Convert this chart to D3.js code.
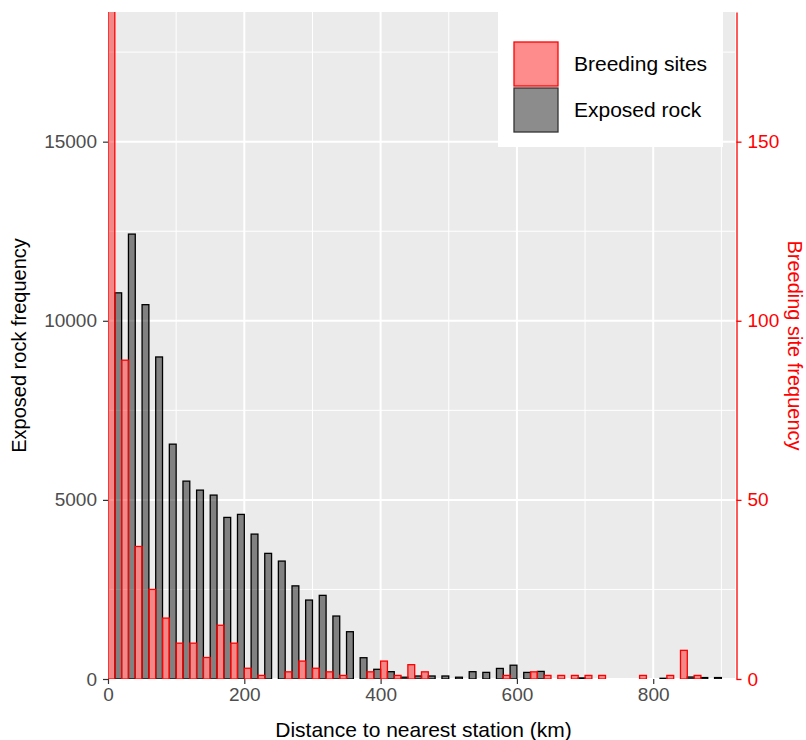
<!DOCTYPE html>
<html><head><meta charset="utf-8">
<script src="https://cdn.jsdelivr.net/npm/d3@7"></script>
<style>
body{margin:0;background:#fff;}
text{font-family:"Liberation Sans",Arial,sans-serif;}
</style></head>
<body><svg id="c" width="806" height="740"></svg>
<script>
// bin starts (km), bin width 20
const binStarts = d3.range(0, 920, 20);
const rockCounts = [10780,12420,10450,8990,6556,5524,5273,5134,4511,4595,
  4045,3507,3292,2600,2204,2335,1758,1320,594,271,
  204,50,84,84,84,50,204,185,295,385,
  184,212,0,0,30,0,0,0,0,0,
  20,0,55,40,40,0];
const breedCounts = [190,89,37,25,17,10,10,6,15,10,
  3,1,0,2,5,3,2,1,0,2,
  5,1,4,2,0,0,0,0,0,1,
  0,2,1,1,1,1,1,0,0,1,
  0,1,8,1,0,0];
const xTicks = [0,200,400,600,800];
const xMinor = [100,300,500,700,900];
const yLeftTicks = [0,5000,10000,15000];
const yLeftMinor = [2500,7500,12500,17500];
const yRightTicks = [0,50,100,150];
const seriesNames = ["Breeding sites","Exposed rock"];

const binWidth = 20;
const L=108, R=735, T=12, B=679;
const svg = d3.select("#c");
const x = d3.scaleLinear().domain([0,920]).range([L,R]);
const yL = d3.scaleLinear().domain([0,18620]).range([B,T]);
const yR = d3.scaleLinear().domain([0,186.2]).range([B,T]);

svg.append("defs").append("clipPath").attr("id","pc")
  .append("rect").attr("x",L).attr("y",T).attr("width",R-L).attr("height",B-T);

svg.append("rect").attr("x",L).attr("y",T).attr("width",R-L).attr("height",B-T).attr("fill","#EBEBEB");
const g = svg.append("g").attr("clip-path","url(#pc)");
// minor grid
g.selectAll(".vmin").data(xMinor).join("line")
  .attr("x1",d=>x(d)).attr("x2",d=>x(d)).attr("y1",T).attr("y2",B)
  .attr("stroke","#fff").attr("stroke-width",1);
g.selectAll(".hmin").data(yLeftMinor).join("line")
  .attr("x1",L).attr("x2",R).attr("y1",d=>yL(d)).attr("y2",d=>yL(d))
  .attr("stroke","#fff").attr("stroke-width",1);
// major grid
g.selectAll(".vmaj").data(xTicks).join("line")
  .attr("x1",d=>x(d)).attr("x2",d=>x(d)).attr("y1",T).attr("y2",B)
  .attr("stroke","#fff").attr("stroke-width",2);
g.selectAll(".hmaj").data(yLeftTicks).join("line")
  .attr("x1",L).attr("x2",R).attr("y1",d=>yL(d)).attr("y2",d=>yL(d))
  .attr("stroke","#fff").attr("stroke-width",2);

// bars
const half = binWidth/2;
g.selectAll(".rock").data(binStarts).join("rect")
  .attr("x",(d)=>x(d+half)).attr("width",(d)=>x(d+binWidth)-x(d+half))
  .attr("y",(d,i)=>yL(rockCounts[i])).attr("height",(d,i)=>B-yL(rockCounts[i]))
  .attr("fill","rgba(0,0,0,0.45)").attr("stroke","#000").attr("stroke-width",1.3);
g.selectAll(".breed").data(binStarts).join("rect")
  .attr("x",(d)=>x(d)).attr("width",(d)=>x(d+half)-x(d))
  .attr("y",(d,i)=>yR(breedCounts[i])).attr("height",(d,i)=>B-yR(breedCounts[i]))
  .attr("fill","rgba(255,0,0,0.42)").attr("stroke","#FF0000").attr("stroke-width",1.3);

// left axis
const axL = svg.append("g").attr("transform",`translate(${L},0)`)
  .call(d3.axisLeft(yL).tickValues(yLeftTicks).tickSize(5).tickPadding(6).tickFormat(d3.format("d")));
axL.select(".domain").remove();
axL.selectAll("line").attr("stroke","#333").attr("stroke-width",1.2);
axL.selectAll("text").attr("fill","#4D4D4D").style("font-size","19px");
// bottom axis
const axB = svg.append("g").attr("transform",`translate(0,${B})`)
  .call(d3.axisBottom(x).tickValues(xTicks).tickSize(5).tickPadding(4));
axB.select(".domain").remove();
axB.selectAll("line").attr("stroke","#333").attr("stroke-width",1.2);
axB.selectAll("text").attr("fill","#4D4D4D").style("font-size","19px");
// right axis
const axR = svg.append("g").attr("transform",`translate(${R+1.5},0)`)
  .call(d3.axisRight(yR).tickValues(yRightTicks).tickSize(5).tickPadding(6).tickSizeOuter(0));
axR.select(".domain").attr("stroke","#FF0000").attr("stroke-width",1.3);
axR.selectAll("line").attr("stroke","#FF0000").attr("stroke-width",1.3);
axR.selectAll("text").attr("fill","#FF0000").style("font-size","19px");

// titles
svg.append("text").attr("x",(L+R)/2+2).attr("y",737).attr("text-anchor","middle")
  .style("font-size","21px").attr("fill","#000").text("Distance to nearest station (km)");
svg.append("text").attr("transform",`translate(26,${(T+B)/2}) rotate(-90)`).attr("text-anchor","middle")
  .style("font-size","20px").attr("fill","#000").text("Exposed rock frequency");
svg.append("text").attr("transform",`translate(788,${(T+B)/2}) rotate(90)`).attr("text-anchor","middle")
  .style("font-size","20px").attr("fill","#FF0000").text("Breeding site frequency");

// legend
const lg = svg.append("g");
lg.append("rect").attr("x",498).attr("y",T).attr("width",225).attr("height",135).attr("fill","#fff");
const keyFill = ["rgba(255,0,0,0.45)","rgba(0,0,0,0.45)"];
const keyStroke = ["#FF0000","#333"];
seriesNames.forEach((n,i)=>{
  lg.append("rect").attr("x",514).attr("y",42+i*46).attr("width",44).attr("height",44)
    .attr("fill",keyFill[i]).attr("stroke",keyStroke[i]).attr("stroke-width",1.3);
  lg.append("text").attr("x",574).attr("y",64+i*46).attr("dy","0.35em")
    .style("font-size","21px").attr("fill","#000").text(n);
});
</script></body></html>
